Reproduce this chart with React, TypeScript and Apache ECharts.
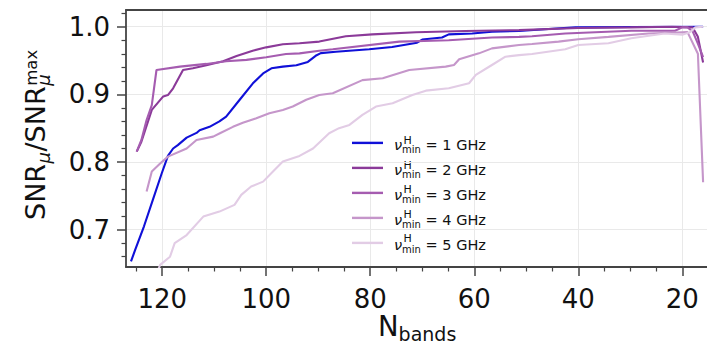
import React, { useEffect, useRef } from 'react';
import * as echarts from 'echarts';

const FONT = 'DejaVu Sans';

const legendLabels = ['1 GHz', '2 GHz', '3 GHz', '4 GHz', '5 GHz'];
const seriesColors = ['#1010d8', '#8b3a99', '#a55cb0', '#c596ca', '#e2cce5'];

const n1 = [126, 125.2, 123.5, 121.8, 120.1, 118.9, 117.9, 117, 115.3, 113.4, 112.8, 110.9, 109, 107.7, 105.1, 102.6, 100.6, 99, 96.8, 94.2, 92, 90.5, 89.5, 86.6, 80.2, 75.8, 71, 70, 66.2, 64.9, 60.4, 56.6, 51.4, 45, 40.5, 30, 16];
const snr1 = [0.653, 0.670, 0.705, 0.744, 0.783, 0.809, 0.820, 0.825, 0.836, 0.843, 0.847, 0.852, 0.860, 0.867, 0.892, 0.916, 0.931, 0.9385, 0.941, 0.943, 0.948, 0.957, 0.961, 0.963, 0.9666, 0.970, 0.9764, 0.981, 0.984, 0.9887, 0.990, 0.9926, 0.9936, 0.997, 0.999, 0.9995, 1.0];

const n2 = [124.9, 124, 122, 119.8, 118.9, 117.9, 116, 114.1, 111.5, 108.3, 105.7, 102.6, 100, 96.8, 93.6, 89.8, 84.7, 79.6, 71.2, 61.7, 51.4, 40, 30, 22, 18, 17, 16];
const snr2 = [0.8154, 0.830, 0.877, 0.897, 0.899, 0.909, 0.936, 0.9386, 0.943, 0.949, 0.9567, 0.9645, 0.9695, 0.974, 0.9755, 0.978, 0.986, 0.9887, 0.9917, 0.9936, 0.995, 0.998, 0.999, 1.0, 0.999, 0.985, 0.947];

const n3 = [124.9, 124, 123, 122, 121.1, 116.6, 111.5, 107.7, 103.8, 100, 96.2, 93.6, 89.8, 87.2, 74.4, 64.9, 56.6, 51.4, 48.9, 42.5, 29.8, 21.4, 20, 19, 18, 17, 16];
const snr3 = [0.8154, 0.8326, 0.862, 0.884, 0.936, 0.941, 0.945, 0.949, 0.951, 0.9548, 0.9597, 0.9606, 0.9645, 0.9666, 0.978, 0.980, 0.984, 0.985, 0.986, 0.990, 0.994, 0.994, 0.999, 0.999, 0.993, 0.975, 0.955];

const n4 = [123, 122, 120.5, 118.9, 115.3, 113.4, 110.2, 108.9, 106.4, 104.5, 101.9, 99.4, 96.8, 94.9, 92.3, 89.8, 87.2, 81.5, 77.6, 72.5, 65.5, 63.9, 62.9, 59.1, 56.6, 51.4, 48.9, 43.8, 40, 34.2, 26.5, 22.1, 19, 17, 16];
const snr4 = [0.7563, 0.786, 0.797, 0.808, 0.820, 0.8326, 0.8375, 0.8425, 0.852, 0.858, 0.8647, 0.872, 0.877, 0.882, 0.892, 0.899, 0.9016, 0.921, 0.9237, 0.936, 0.941, 0.9434, 0.9518, 0.9606, 0.968, 0.973, 0.9745, 0.978, 0.9814, 0.985, 0.990, 0.991, 0.992, 0.96, 0.77];

const n5 = [121, 120.4, 118.5, 117.6, 115.3, 112.1, 109, 106.1, 104.8, 102.9, 100.6, 98.7, 96.8, 93.6, 91, 87.9, 86, 84, 81.5, 78.9, 75.7, 71.9, 69.3, 64.9, 61, 59.7, 56.6, 54, 51.4, 48.9, 42.5, 40, 34.2, 29.8, 23.4, 20, 18.5, 17.5, 16];
const snr5 = [0.636, 0.648, 0.660, 0.680, 0.692, 0.7193, 0.7267, 0.7366, 0.7514, 0.7637, 0.771, 0.786, 0.8006, 0.809, 0.820, 0.8425, 0.850, 0.8548, 0.8696, 0.882, 0.8868, 0.899, 0.9055, 0.909, 0.9164, 0.9287, 0.9434, 0.9557, 0.958, 0.9597, 0.9666, 0.973, 0.9755, 0.983, 0.990, 0.988, 0.992, 0.999, 1.0];

const xTickValues = [20, 40, 60, 80, 100, 120];
const xMinorTickValues = [25, 30, 35, 45, 50, 55, 65, 70, 75, 85, 90, 95, 105, 110, 115, 125];
const yTickValues = [0.7, 0.8, 0.9, 1.0];
const yMinorTickValues = [0.66, 0.68, 0.72, 0.74, 0.76, 0.78, 0.82, 0.84, 0.86, 0.88, 0.92, 0.94, 0.96, 0.98, 1.02];

const X_MIN = 15.25;
const X_MAX = 126.96;
const Y_MIN = 0.6448;
const Y_MAX = 1.0247;

const allN = [n1, n2, n3, n4, n5];
const allSnr = [snr1, snr2, snr3, snr4, snr5];

const SPINE = '#444';
const TEXT = '#111';

export default function App() {
  const ref = useRef<HTMLDivElement>(null);
  useEffect(() => {
    if (!ref.current) return;
    const chart = echarts.init(ref.current, null, { renderer: 'svg' });

    const series = legendLabels.map((name, i) => ({
      name,
      type: 'line',
      xAxisIndex: 0,
      yAxisIndex: 0,
      data: allN[i].map((v, j) => [v, allSnr[i][j]]),
      symbol: 'none',
      clip: true,
      lineStyle: { color: seriesColors[i], width: 2.1 },
      itemStyle: { color: seriesColors[i] },
      emphasis: { disabled: true },
    }));

    const rowCenters = [0, 1, 2, 3, 4].map((k) => 146.7 + k * 24.5);

    const baseX = {
      type: 'value',
      min: X_MIN,
      max: X_MAX,
      inverse: true,
    };

    const option: any = {
      animation: false,
      grid: { left: 126, top: 10, right: -2, bottom: 76, containLabel: false },
      xAxis: [
        {
          ...baseX,
          position: 'bottom',
          axisLine: { show: true, onZero: false, lineStyle: { color: SPINE, width: 1.8 } },
          axisTick: { show: true, customValues: xTickValues, length: 9, lineStyle: { color: SPINE, width: 1.5 } },
          axisLabel: {
            show: true,
            customValues: xTickValues,
            margin: 19,
            fontSize: 26,
            fontFamily: FONT,
            color: TEXT,
            formatter: (v: number) => String(Math.round(v)),
          },
          splitLine: { show: true, lineStyle: { color: '#e9e9e9', width: 1 } },
        },
        {
          ...baseX,
          position: 'top',
          axisLine: { show: true, onZero: false, lineStyle: { color: SPINE, width: 1.8 } },
          axisTick: { show: false },
          axisLabel: { show: false },
          splitLine: { show: false },
        },
        {
          ...baseX,
          position: 'bottom',
          axisLine: { show: false, onZero: false },
          axisTick: { show: true, customValues: xMinorTickValues, length: 4.5, lineStyle: { color: SPINE, width: 1.2 } },
          axisLabel: { show: false },
          splitLine: { show: false },
        },
      ],
      yAxis: [
        {
          type: 'value',
          min: Y_MIN,
          max: Y_MAX,
          position: 'left',
          axisLine: { show: true, onZero: false, lineStyle: { color: SPINE, width: 1.8 } },
          axisTick: { show: true, customValues: yTickValues, length: 9, lineStyle: { color: SPINE, width: 1.5 } },
          axisLabel: {
            show: true,
            customValues: yTickValues,
            margin: 16,
            fontSize: 26,
            fontFamily: FONT,
            color: TEXT,
            formatter: (v: number) => v.toFixed(1),
          },
          splitLine: { show: true, lineStyle: { color: '#e9e9e9', width: 1 } },
        },
        {
          type: 'value',
          min: Y_MIN,
          max: Y_MAX,
          position: 'left',
          axisLine: { show: false, onZero: false },
          axisTick: { show: true, customValues: yMinorTickValues, length: 4.5, lineStyle: { color: SPINE, width: 1.2 } },
          axisLabel: { show: false },
          splitLine: { show: false },
        },
      ],
      legend: {
        orient: 'vertical',
        left: 352,
        top: 137.4,
        padding: 0,
        itemGap: 7.5,
        itemWidth: 31,
        itemHeight: 2.4,
        icon: 'rect',
        selectedMode: false,
        data: legendLabels,
        formatter: (name: string) => `{nu|ν}{sub|min}{eq| = ${name}}`,
        textStyle: {
          fontFamily: FONT,
          color: TEXT,
          padding: [4, 0, 0, 6],
          rich: {
            nu: { fontSize: 14.5, fontFamily: FONT, fontStyle: 'italic', color: TEXT, lineHeight: 20, verticalAlign: 'middle' },
            sub: { fontSize: 10, fontFamily: FONT, color: TEXT, lineHeight: 9, verticalAlign: 'bottom' },
            eq: { fontSize: 14.5, fontFamily: FONT, color: TEXT, lineHeight: 20, verticalAlign: 'middle' },
          },
        },
      },
      graphic: [
        {
          type: 'group',
          x: 45,
          y: 220,
          rotation: Math.PI / 2,
          children: [
            { type: 'text', x: 0, y: -9.5, style: { text: 'SNR', fontSize: 27, fontFamily: FONT, fill: TEXT, verticalAlign: 'middle', align: 'left' } },
            { type: 'text', x: 56.5, y: -1.3, style: { text: 'μ', fontSize: 18, fontStyle: 'italic', fontFamily: FONT, fill: TEXT, verticalAlign: 'middle', align: 'left' } },
            { type: 'text', x: 68.5, y: -9.5, style: { text: '/', fontSize: 27, fontFamily: FONT, fill: TEXT, verticalAlign: 'middle', align: 'left' } },
            { type: 'text', x: 77.6, y: -9.5, style: { text: 'SNR', fontSize: 27, fontFamily: FONT, fill: TEXT, verticalAlign: 'middle', align: 'left' } },
            { type: 'text', x: 134.2, y: -1.3, style: { text: 'μ', fontSize: 18, fontStyle: 'italic', fontFamily: FONT, fill: TEXT, verticalAlign: 'middle', align: 'left' } },
            { type: 'text', x: 134.2, y: -13.8, style: { text: 'max', fontSize: 16.5, fontFamily: FONT, fill: TEXT, verticalAlign: 'middle', align: 'left' } },
          ],
        },
        { type: 'text', x: 378, y: 326, style: { text: 'N', fontSize: 27.5, fontFamily: FONT, fill: TEXT, verticalAlign: 'middle', align: 'left' } },
        { type: 'text', x: 398.6, y: 333.5, style: { text: 'bands', fontSize: 19, fontFamily: FONT, fill: TEXT, verticalAlign: 'middle', align: 'left' } },
        ...rowCenters.map((r) => ({
          type: 'text',
          x: 403.5,
          y: r - 6,
          style: { text: 'H', fontSize: 11, fontFamily: FONT, fill: TEXT, verticalAlign: 'middle', align: 'left' },
        })),
      ],
      series,
    };

    chart.setOption(option);
    return () => chart.dispose();
  }, []);

  return (
    <div
      ref={ref}
      style={{ position: 'absolute', left: 0, top: 0, width: 707, height: 343, background: '#fff' }}
    />
  );
}
